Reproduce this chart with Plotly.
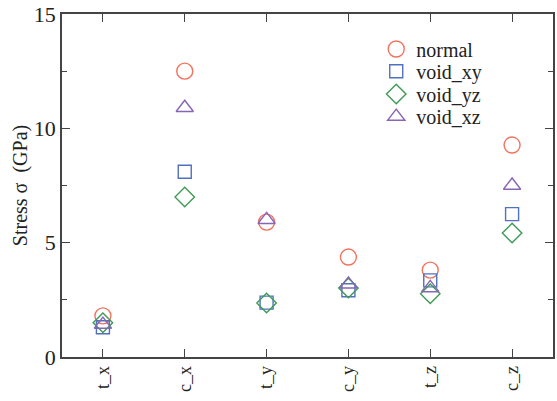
import plotly.graph_objects as go

categories = ["t_x", "c_x", "t_y", "c_y", "t_z", "c_z"]
normal = [1.8, 12.5, 5.9, 4.37, 3.8, 9.27]
void_xy = [1.3, 8.1, 2.38, 2.92, 3.35, 6.25]
void_yz = [1.5, 7.0, 2.36, 3.02, 2.77, 5.42]
void_xz = [1.42, 10.9, 6.0, 3.18, 3.02, 7.5]

series = [
    ("normal", normal, "circle-open", "#f2735e", 16),
    ("void_xy", void_xy, "square-open", "#5070c0", 13),
    ("void_yz", void_yz, "diamond-open", "#3e9a55", 15),
    ("void_xz", void_xz, "triangle-up-open", "#8766b6", 15),
]

FONT = "Liberation Serif"
legend_ids = ["legend", "legend2", "legend3", "legend4"]
legend_y = [0.898, 0.833, 0.767, 0.701]

fig = go.Figure()
for (name, vals, sym, col, sz), lid in zip(series, legend_ids):
    fig.add_trace(go.Scatter(
        x=categories, y=vals, mode="markers", name=name, legend=lid,
        marker=dict(symbol=sym, size=sz, color=col, line=dict(width=1.4, color=col)),
    ))

legends = {}
for lid, ly in zip(legend_ids, legend_y):
    legends[lid] = dict(x=0.64, y=ly, xanchor="left", yanchor="middle",
                        font=dict(family=FONT, size=20, color="#222"),
                        bgcolor="rgba(0,0,0,0)", borderwidth=0, itemwidth=30)

fig.update_layout(
    template="none",
    width=557, height=401,
    margin=dict(l=62, r=4, t=14, b=44),
    paper_bgcolor="white", plot_bgcolor="white",
    font=dict(family=FONT, size=17, color="#222"),
    showlegend=True,
    **legends,
)
fig.update_xaxes(
    type="category", range=[-0.5, 5.5],
    showline=True, linecolor="#444", linewidth=1.5, mirror="ticks",
    ticks="inside", ticklen=8, tickwidth=1.3, tickcolor="#444",
    tickangle=-90, showgrid=False, zeroline=False,
    tickfont=dict(family=FONT, size=18, color="#222"),
)
fig.update_yaxes(
    range=[0, 15], tickvals=[0, 5, 10, 15],
    showline=True, linecolor="#444", linewidth=1.5, mirror="ticks",
    ticks="inside", ticklen=8, tickwidth=1.3, tickcolor="#444",
    minor=dict(dtick=2.5, ticks="inside", ticklen=5, tickwidth=1.2, tickcolor="#444"),
    showgrid=False, zeroline=False,
    tickfont=dict(family=FONT, size=22, color="#222"),
    title=dict(text="Stress σ  (GPa)", font=dict(family=FONT, size=20, color="#222"), standoff=1),
)
fig.write_html("out.html")
